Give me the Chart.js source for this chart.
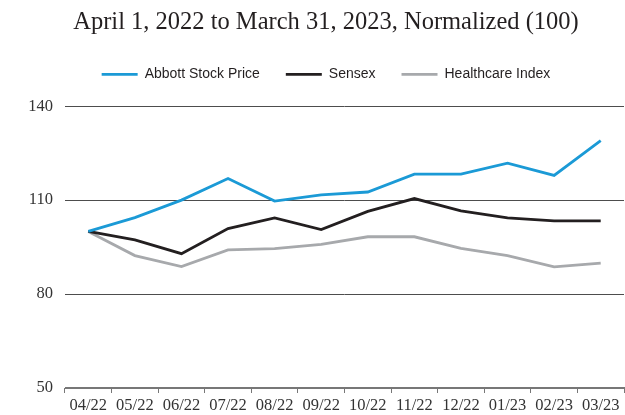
<!DOCTYPE html>
<html>
<head>
<meta charset="utf-8">
<script src="https://cdn.jsdelivr.net/npm/chart.js@4.4.1/dist/chart.umd.min.js"></script>
<style>
  html, body { margin: 0; padding: 0; background: #fff; }
  #wrap { width: 625px; height: 415px; position: relative; }
</style>
</head>
<body>
<div id="wrap"><canvas id="perfChart"></canvas></div>
<script>
const months = ["04/22", "05/22", "06/22", "07/22", "08/22", "09/22", "10/22", "11/22", "12/22", "01/23", "02/23", "03/23"];
const abbott = [100, 104.4, 110, 116.9, 109.7, 111.7, 112.6, 118.3, 118.3, 121.8, 117.9, 129.0];
const sensex = [100, 97.3, 92.9, 100.9, 104.3, 100.6, 106.4, 110.5, 106.6, 104.3, 103.4, 103.4];
const healthcare = [100, 92.3, 88.8, 94.1, 94.5, 95.9, 98.3, 98.3, 94.6, 92.3, 88.7, 89.9];
const yTicks = [50, 80, 110, 140];

const serif = "'Liberation Serif', 'DejaVu Serif', serif";
const sans = "'Liberation Sans', Arial, sans-serif";

const line = (label, data, color) => ({
  label: label,
  data: data,
  borderColor: color,
  backgroundColor: color,
  borderWidth: 2.8,
  pointRadius: 0,
  tension: 0,
  fill: false
});

new Chart(document.getElementById("perfChart"), {
  type: "line",
  data: {
    labels: months,
    datasets: [
      line("Abbott Stock Price", abbott, "#1b9ad6"),
      line("Sensex", sensex, "#231f20"),
      line("Healthcare Index", healthcare, "#a7a9ac")
    ]
  },
  options: {
    responsive: true,
    maintainAspectRatio: false,
    animation: false,
    layout: { padding: { left: 28, right: 1, top: 0, bottom: 0 } },
    plugins: {
      title: {
        display: true,
        text: "April 1, 2022 to March 31, 2023, Normalized (100)",
        color: "#231f20",
        font: { family: serif, size: 24.5, weight: "normal" },
        padding: { top: 7.5, bottom: 4.5 }
      },
      legend: {
        display: true,
        weight: 1800,
        labels: {
          boxWidth: 36,
          boxHeight: 0, // stroke only, so the sample reads as a thin line
          padding: 26,
          color: "#231f20",
          font: { family: sans, size: 14 }
        }
      },
      // empty subtitle used only as a gap between legend and plot
      subtitle: {
        display: true,
        text: "",
        font: { size: 1 },
        padding: { top: 0, bottom: 13.6 }
      },
      tooltip: { enabled: false }
    },
    scales: {
      x: {
        offset: true,
        afterFit: (axis) => { axis.height = 27; },
        grid: {
          offset: true,
          drawOnChartArea: false,
          drawTicks: true,
          tickLength: 5,
          color: "#777"
        },
        border: { display: true, color: "#777" },
        ticks: {
          autoSkip: false,
          maxRotation: 0,
          padding: 3,
          color: "#333",
          font: { family: serif, size: 16.5 }
        }
      },
      y: {
        min: 50,
        max: 140,
        afterBuildTicks: (axis) => { axis.ticks = yTicks.map(v => ({ value: v })); },
        afterFit: (axis) => { axis.width = 37; },
        grid: {
          drawTicks: false,
          color: (ctx) => ctx.tick && ctx.tick.value === 50 ? "#777" : "#4d4d4d",
          lineWidth: 1
        },
        border: { display: false },
        ticks: {
          padding: 12,
          color: "#333",
          font: { family: serif, size: 16.5 }
        }
      }
    }
  }
});
</script>
</body>
</html>
